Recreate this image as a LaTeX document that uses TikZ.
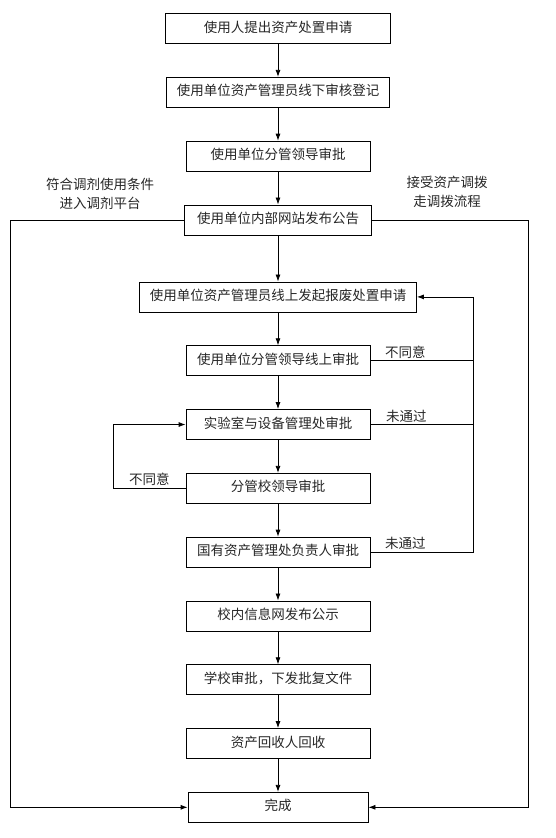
\documentclass[tikz,border=0pt]{standalone}
\usepackage{fontspec}
\setmainfont{Noto Sans CJK SC}
\usetikzlibrary{positioning,arrows.meta}

\begin{document}
\begin{tikzpicture}[
    x=1pt, y=1pt,
    >={Latex[length=7pt,width=5pt]},
    font=\fontsize{13.5}{19}\selectfont,
    node distance=33pt,
    box/.style={draw, line width=0.8pt, minimum width=184pt,
      minimum height=30pt, text height=10pt, text depth=3pt,
      align=center, inner sep=2pt, text=black!85},
    note/.style={align=center, text=black!85, inner sep=2pt},
    arr/.style={->, line width=0.8pt},
    seg/.style={line width=0.8pt},
  ]
\useasboundingbox (0,0) rectangle (556,-838);

% Offline steps
\node[box, minimum width=225pt] (req) at (278,-28.5) {使用人提出资产处置申请};
\node[box, minimum width=223pt, below=of req] (check) {使用单位资产管理员线下审核登记};
\node[box, below=of check] (head) {使用单位分管领导审批};
\node[box, minimum width=187pt, below=of head] (pub) {使用单位内部网站发布公告};

% Online approval chain
\node[box, minimum width=277pt, below=46.2pt of pub] (apply) {使用单位资产管理员线上发起报废处置申请};
\node[box, below=of apply] (sign) {使用单位分管领导线上审批};
\node[box, below=of sign] (lab) {实验室与设备管理处审批};
\node[box, below=of lab] (lead) {分管校领导审批};
\node[box, below=of lead] (state) {国有资产管理处负责人审批};
\node[box, below=of state] (notice) {校内信息网发布公示};
\node[box, below=of notice] (reply) {学校审批，下发批复文件};
\node[box, below=of reply] (back) {资产回收人回收};
\node[box, minimum width=180pt, below=of back] (done) {完成};

% Bus lines
\coordinate (lout) at (10,0);
\coordinate (rout) at (528,0);
\coordinate (lbus) at (113,0);
\coordinate (rbus) at (473,0);

% Side notes
\node[note] (swap) at (100,-194) {符合调剂使用条件\\进入调剂平台};
\node[note] (move) at (447,-192) {接受资产调拨\\走调拨流程};

% Arrows -- main flow
\draw[arr] (req) -- (check);
\draw[arr] (check) -- (head);
\draw[arr] (head) -- (pub);
\draw[arr] (pub) -- (apply);
\draw[arr] (apply) -- (sign);
\draw[arr] (sign) -- (lab);
\draw[arr] (lab) -- (lead);
\draw[arr] (lead) -- (state);
\draw[arr] (state) -- (notice);
\draw[arr] (notice) -- (reply);
\draw[arr] (reply) -- (back);
\draw[arr] (back) -- (done);

% Outer branches straight to the end
\draw[arr] (pub.west) -- (pub.west -| lout) |- (done.west);
\draw[arr] (pub.east) -- (pub.east -| rout) |- (done.east);

% Rejections back to the online request
\draw[seg] (sign.east) -- node[note, above, pos=0.34] {不同意} (sign.east -| rbus);
\draw[seg] (lab.east) -- node[note, above, pos=0.35] {未通过} (lab.east -| rbus);
\draw[arr] (state.east) -- node[note, above, pos=0.34] {未通过} (state.east -| rbus)
  |- (apply.east);

% School leader rejection back to the lab office
\draw[arr] (lead.west) -- node[note, above, pos=0.5] {不同意} (lead.west -| lbus)
  |- (lab.west);

\end{tikzpicture}
\end{document}
